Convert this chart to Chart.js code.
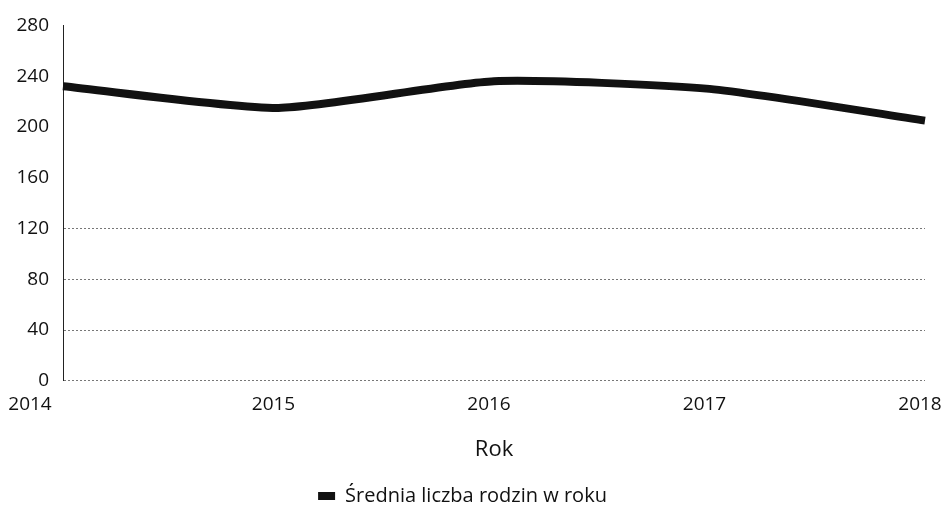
<!DOCTYPE html>
<html>
<head>
<meta charset="utf-8">
<script src="https://cdn.jsdelivr.net/npm/chart.js@4/dist/chart.umd.min.js"></script>
<style>
  html, body { margin: 0; padding: 0; background: #fff; }
  #wrap { width: 948px; height: 506px; }
</style>
</head>
<body>
<div id="wrap"><canvas id="c" width="948" height="506"></canvas></div>
<script>
// Średnia liczba rodzin w roku, 2014–2018
const years = ['2014', '2015', '2016', '2017', '2018'];
const births = [232, 215, 236, 230, 205];
const yTicks = [0, 40, 80, 120, 160, 200, 240, 280];

const FONT = '"Open Sans", "Noto Sans", sans-serif';
const INK = '#111';

// the first year label sits to the left of the value axis
const firstLabelShift = {
  id: 'firstLabelShift',
  beforeDraw(chart) {
    const items = chart.scales.x.getLabelItems();
    if (items.length) items[0].options.translation[0] -= 28;
  }
};

new Chart(document.getElementById('c'), {
  type: 'line',
  data: {
    labels: years,
    datasets: [{
      label: 'Średnia liczba rodzin w roku',
      data: births,
      borderColor: INK,
      backgroundColor: INK,
      borderWidth: 8,
      tension: 0.2,
      pointRadius: 0,
      fill: false
    }]
  },
  options: {
    responsive: false,
    animation: false,
    layout: { padding: { top: 17, right: 23, left: 0, bottom: -10 } },
    plugins: {
      tooltip: { enabled: false },
      legend: {
        position: 'bottom',
        labels: {
          color: INK,
          font: { family: FONT, size: 20 },
          boxWidth: 17,
          boxHeight: 8,
          padding: 3,
          generateLabels(chart) {
            const items = Chart.defaults.plugins.legend.labels.generateLabels(chart);
            items.forEach(it => { it.lineWidth = 0; it.fillStyle = INK; });
            return items;
          }
        }
      }
    },
    scales: {
      x: {
        type: 'category',
        offset: false,
        afterFit(scale) { scale.paddingLeft = 0; scale.paddingRight = 0; },
        grid: { display: false, drawTicks: false },
        border: { display: false },
        ticks: { color: INK, font: { family: FONT, size: 19 }, padding: 12, maxRotation: 0, labelOffset: -5 },
        title: {
          display: true,
          text: 'Rok',
          color: INK,
          font: { family: FONT, size: 22 },
          padding: { top: 9, bottom: 20 }
        }
      },
      y: {
        min: 0,
        max: 280,
        afterBuildTicks(scale) { scale.ticks = yTicks.map(v => ({ value: v })); },
        afterFit(scale) { scale.width = 63; },
        grid: {
          drawTicks: false,
          color: ctx => (ctx.tick && ctx.tick.value <= 120 ? '#777' : 'rgba(0,0,0,0)'),
          lineWidth: 1
        },
        border: { display: true, color: '#222', width: 1, dash: [2, 2] },
        ticks: { color: INK, font: { family: FONT, size: 19 }, padding: 14 }
      }
    }
  },
  plugins: [firstLabelShift]
});
</script>
</body>
</html>
